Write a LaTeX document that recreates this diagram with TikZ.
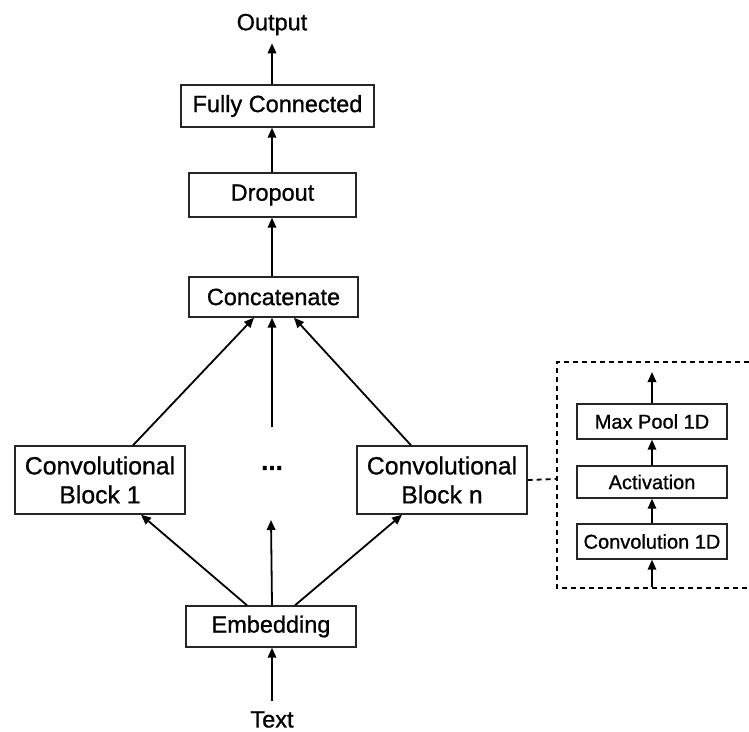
\documentclass[tikz,border=0pt]{standalone}
\usepackage{fontspec}
\setmainfont{Liberation Sans}[FakeBold=0.9]
\usetikzlibrary{arrows.meta,calc}
\begin{document}
\begin{tikzpicture}[x=1pt,y=-1pt,
  box/.style={draw=black!85,line width=1.4pt,inner sep=0pt,align=center,font=\fontsize{23.5}{29}\selectfont},
  sbox/.style={draw=black!85,line width=1.4pt,inner sep=0pt,minimum width=150pt,font=\fontsize{20}{24}\selectfont},
  lbl/.style={inner sep=0pt,font=\fontsize{23.5}{29}\selectfont},
  arr/.style={line width=1.8pt,-{Triangle[length=10pt,width=8.5pt]}},
  dsh/.style={line width=1.8pt,dash pattern=on 5pt off 4pt}]
\useasboundingbox (0,0) rectangle (749,731);
% main column
\node[lbl] (out) at (272,24.5) {Output};
\node[box,minimum width=193pt,minimum height=42pt] (fc) at (277.5,106) {Fully Connected};
\node[box,minimum width=167pt,minimum height=44pt] (drop) at (272.5,195) {Dropout};
\node[box,minimum width=169pt,minimum height=40pt] (concat) at (273.5,297) {Concatenate};
\node[box,minimum width=170pt,minimum height=68pt,font=\fontsize{24.8}{29}\selectfont] (cb1) at (100,480) {Convolutional\\Block 1};
\node[box,minimum width=170pt,minimum height=68pt,font=\fontsize{24.8}{29}\selectfont] (cbn) at (442,480) {Convolutional\\Block n};
\node[lbl,font=\fontsize{26}{29}\selectfont\bfseries] (dots) at (272,468) {...};
\node[box,minimum width=170pt,minimum height=41pt] (emb) at (271,626.5) {Embedding};
\node[lbl] (txt) at (272,719.5) {Text};
% arrows main
\draw[arr,shorten >=8pt] (fc.north -| out) -- (out.south);
\draw[arr] (drop.north -| out) -- (fc.south -| out);
\draw[arr] (concat.north -| out) -- (drop.south -| out);
\draw[arr] ([xshift=33pt]cb1.north) -- ([xshift=-19.5pt]concat.south);
\draw[arr] ([yshift=41pt]dots.center) -- (concat.south -| dots);
\draw[arr] ([xshift=-31pt]cbn.north) -- ([xshift=20.5pt]concat.south);
\draw[arr] ([xshift=-24pt]emb.north) -- ([xshift=41pt]cb1.south);
\draw[arr] ([xshift=1pt]emb.north) -- ([yshift=-52pt,xshift=-1pt]dots.center);
\draw[arr] ([xshift=24pt]emb.north) -- ([xshift=-40pt]cbn.south);
\draw[arr,shorten <=10pt] (txt.north) -- (emb.south -| txt);
% detail box
\draw[dsh] (749,362) -- (557,362) -- (557,588) -- (749,588);
\coordinate (dleft) at (557,479);
\coordinate (dtop) at (652,372);
\coordinate (dbot) at (652,587);
\draw[dsh] (cbn.east) -- (dleft);
\node[sbox,minimum height=35pt] (mp) at (652,421.5) {Max Pool 1D};
\node[sbox,minimum height=32pt] (act) at (652,482) {Activation};
\node[sbox,minimum height=35pt] (c1d) at (652,541.5) {Convolution 1D};
\draw[arr] (mp.north) -- (dtop);
\draw[arr] (act.north) -- (mp.south);
\draw[arr] (c1d.north) -- (act.south);
\draw[arr] (dbot) -- (c1d.south);
\end{tikzpicture}
\end{document}
